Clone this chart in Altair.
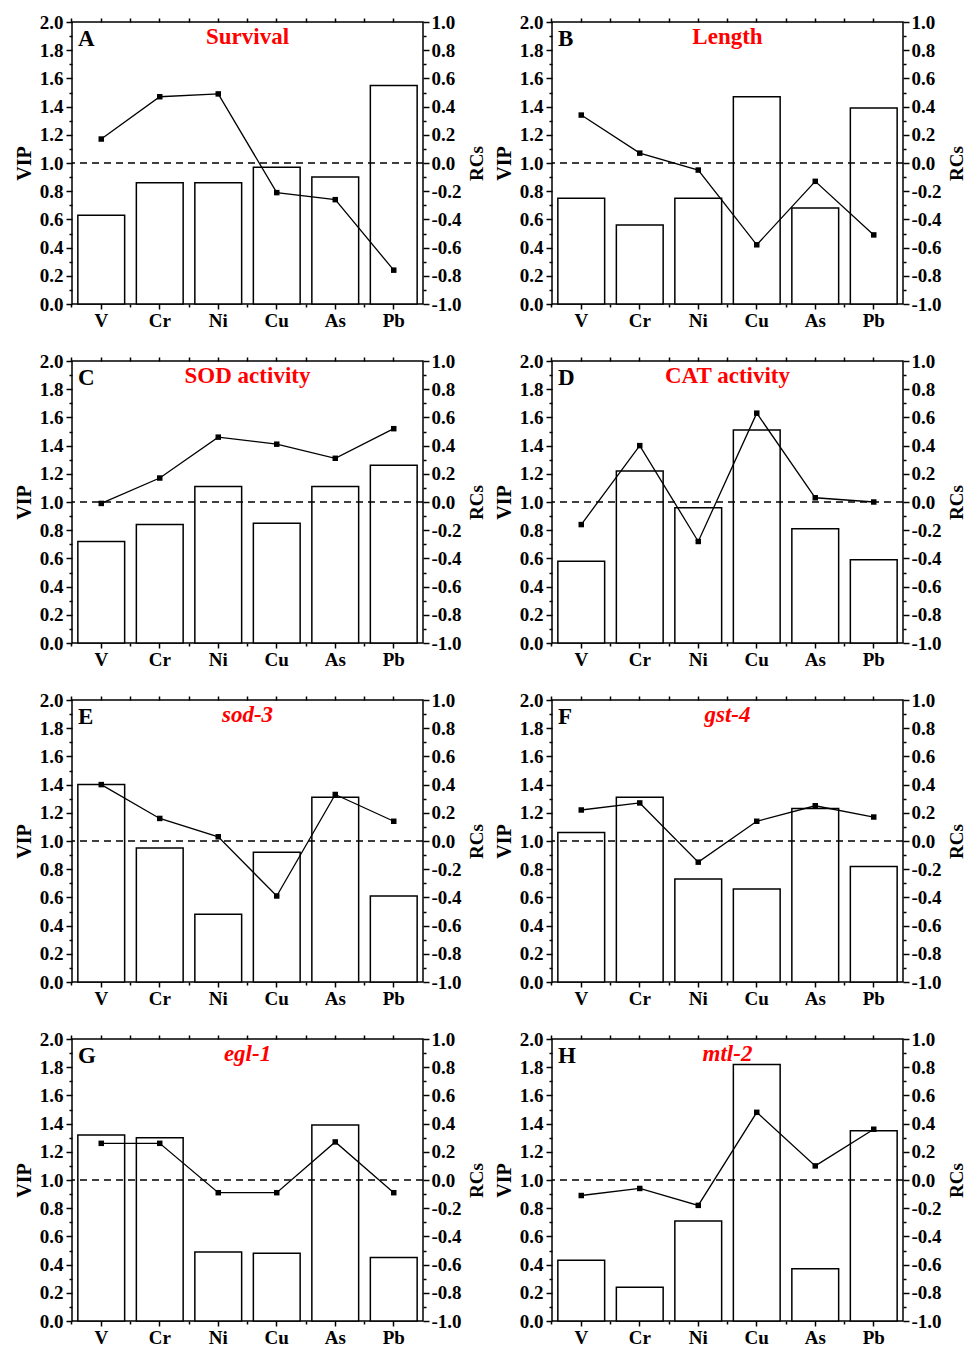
import altair as alt
import pandas as pd

metals = ["V", "Cr", "Ni", "Cu", "As", "Pb"]

letters = ["A", "B", "C", "D", "E", "F", "G", "H"]
titles = ["Survival", "Length", "SOD  activity", "CAT  activity", "sod-3", "gst-4", "egl-1", "mtl-2"]
title_italic = [False, False, False, False, True, True, True, True]

vip_survival = [0.63, 0.86, 0.86, 0.97, 0.90, 1.55]
rc_survival = [0.17, 0.47, 0.49, -0.21, -0.26, -0.76]
vip_length = [0.75, 0.56, 0.75, 1.47, 0.68, 1.39]
rc_length = [0.34, 0.07, -0.05, -0.58, -0.13, -0.51]
vip_sod = [0.72, 0.84, 1.11, 0.85, 1.11, 1.26]
rc_sod = [-0.01, 0.17, 0.46, 0.41, 0.31, 0.52]
vip_cat = [0.58, 1.22, 0.96, 1.51, 0.81, 0.59]
rc_cat = [-0.16, 0.40, -0.28, 0.63, 0.03, 0.00]
vip_sod3 = [1.40, 0.95, 0.48, 0.92, 1.31, 0.61]
rc_sod3 = [0.40, 0.16, 0.03, -0.39, 0.33, 0.14]
vip_gst4 = [1.06, 1.31, 0.73, 0.66, 1.23, 0.82]
rc_gst4 = [0.22, 0.27, -0.15, 0.14, 0.25, 0.17]
vip_egl1 = [1.32, 1.30, 0.49, 0.48, 1.39, 0.45]
rc_egl1 = [0.26, 0.26, -0.09, -0.09, 0.27, -0.09]
vip_mtl2 = [0.43, 0.24, 0.71, 1.82, 0.37, 1.35]
rc_mtl2 = [-0.11, -0.06, -0.18, 0.48, 0.10, 0.36]

vips = [vip_survival, vip_length, vip_sod, vip_cat, vip_sod3, vip_gst4, vip_egl1, vip_mtl2]
rcs = [rc_survival, rc_length, rc_sod, rc_cat, rc_sod3, rc_gst4, rc_egl1, rc_mtl2]

vip_major = [0.0, 0.2, 0.4, 0.6, 0.8, 1.0, 1.2, 1.4, 1.6, 1.8, 2.0]
vip_minor = [0.1, 0.3, 0.5, 0.7, 0.9, 1.1, 1.3, 1.5, 1.7, 1.9]
rc_major = [-1.0, -0.8, -0.6, -0.4, -0.2, 0.0, 0.2, 0.4, 0.6, 0.8, 1.0]
rc_minor = [-0.9, -0.7, -0.5, -0.3, -0.1, 0.1, 0.3, 0.5, 0.7, 0.9]
threshold = [1.0]

FONT = "Liberation Serif"
W, H = 351, 282


def panel(i):
    df = pd.DataFrame({"metal": metals, "VIP": vips[i], "RC": rcs[i]})
    xs = alt.Scale(domain=metals, paddingInner=0.2, paddingOuter=0.1)
    vs = alt.Scale(domain=[0, 2], nice=False, zero=False)
    rs = alt.Scale(domain=[-1, 1], nice=False, zero=False)
    base = alt.Chart(df)

    bars = base.mark_bar(fill="white", stroke="black", strokeWidth=1.5).encode(
        x=alt.X("metal:N", sort=metals, scale=xs,
                axis=alt.Axis(orient="bottom", title=None, labelAngle=0, tickSize=5,
                              labelPadding=2, labelFontSize=19)),
        y=alt.Y("VIP:Q", scale=vs,
                axis=alt.Axis(orient="left", values=vip_major, format=".1f", title="VIP",
                              tickSize=6, labelPadding=3, titlePadding=5)),
    )

    rule = alt.Chart(pd.DataFrame({"thr": threshold})).mark_rule(
        color="black", strokeWidth=1.5, strokeDash=[7, 5]
    ).encode(
        y=alt.Y("thr:Q", scale=vs,
                axis=alt.Axis(orient="left", values=vip_minor, labels=False, title=None, tickSize=3)),
    )

    line = base.mark_line(color="black", strokeWidth=1.3).encode(
        x=alt.X("metal:N", sort=metals, scale=xs,
                axis=alt.Axis(orient="top", title=None, labels=False, tickSize=4)),
        y=alt.Y("RC:Q", scale=rs,
                axis=alt.Axis(orient="right", values=rc_major, title="RCs",
                              labelExpr="replace(format(datum.value, '.1f'), '\u2212', '-')",
                              tickSize=6, labelPadding=2, titlePadding=6, titleAngle=270,
                              titleBaseline="top", titleFontSize=19)),
    )

    pts = base.mark_square(color="black", size=30, opacity=1).encode(
        x=alt.X("metal:N", sort=metals, scale=xs,
                axis=alt.Axis(orient="top", title=None, labels=False, tickSize=4, bandPosition=-0.125)),
        y=alt.Y("RC:Q", scale=rs,
                axis=alt.Axis(orient="right", values=rc_minor, labels=False, title=None, tickSize=3)),
    )

    ghost = base.mark_point(opacity=0).encode(
        x=alt.X("metal:N", sort=metals, scale=xs,
                axis=alt.Axis(orient="bottom", title=None, labels=False, tickSize=3, bandPosition=-0.125)),
        y=alt.Y("VIP:Q", scale=vs, axis=None),
    )

    letter = alt.Chart(pd.DataFrame({"t": [letters[i]]})).mark_text(
        font=FONT, fontSize=23, fontWeight="bold", color="black", align="left", baseline="alphabetic"
    ).encode(text="t:N", x=alt.value(6), y=alt.value(24))

    title = alt.Chart(pd.DataFrame({"t": [titles[i]]})).mark_text(
        font=FONT, fontSize=23, fontWeight="bold", color="#FF0000", align="center",
        baseline="alphabetic", fontStyle="italic" if title_italic[i] else "normal"
    ).encode(text="t:N", x=alt.value(W / 2), y=alt.value(22))

    return alt.layer(bars, rule, line, pts, ghost, letter, title).resolve_scale(
        y="independent"
    ).resolve_axis(x="independent", y="independent").properties(width=W, height=H)


rows = []
for r in range(4):
    rows.append(alt.hconcat(panel(2 * r), panel(2 * r + 1), spacing=6))

chart = alt.vconcat(*rows, spacing=20).configure(
    padding={"left": 13, "top": 12, "right": 0, "bottom": 0},
    background="white",
).configure_view(stroke="black", strokeWidth=1.5).configure_axis(
    labelFont=FONT, labelFontSize=19, labelFontWeight="bold", labelColor="black",
    titleFont=FONT, titleFontSize=20, titleFontWeight="bold", titleColor="black",
    tickColor="black", tickWidth=1.5, domain=False, grid=False,
)

chart.save("out.html", embed_options={"renderer": "svg", "actions": False})
